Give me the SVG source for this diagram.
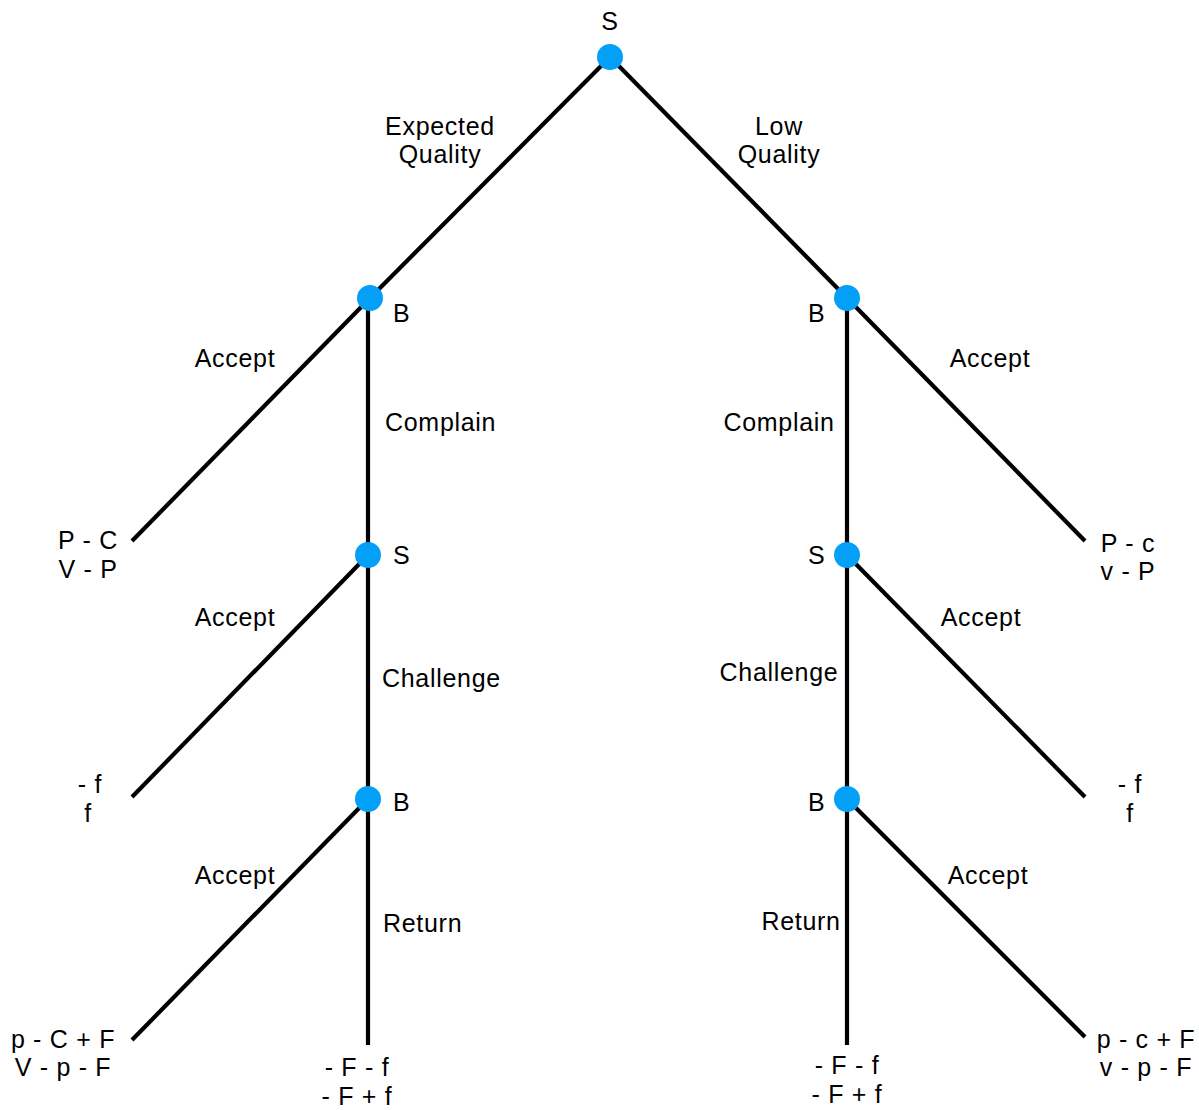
<svg xmlns="http://www.w3.org/2000/svg" width="1199" height="1110" viewBox="0 0 1199 1110">
<style>
.e{stroke:#000;stroke-width:4.2;fill:none;stroke-linecap:butt}
.n{fill:#04a0f8}
text{font-family:"Liberation Sans",Arial,sans-serif;font-size:25px;fill:#000;letter-spacing:0.7px}
.m{text-anchor:middle}
</style>
<rect width="1199" height="1110" fill="#fff"/>
<g id="connectors">
<line class="e" x1="610" y1="57" x2="370" y2="298"/>
<line class="e" x1="610" y1="57" x2="847" y2="298"/>
<line class="e" x1="370" y1="298" x2="132" y2="541"/>
<line class="e" x1="368" y1="298" x2="368" y2="1045"/>
<line class="e" x1="368" y1="555" x2="132" y2="797"/>
<line class="e" x1="368" y1="799" x2="132" y2="1040"/>
<line class="e" x1="847" y1="298" x2="1085" y2="541"/>
<line class="e" x1="847" y1="298" x2="847" y2="1045"/>
<line class="e" x1="847" y1="555" x2="1085" y2="797"/>
<line class="e" x1="847" y1="799" x2="1085" y2="1037"/>
<text x="440" y="135" class="m">Expected</text>
<text x="440" y="163" class="m">Quality</text>
<text x="779" y="135" class="m">Low</text>
<text x="779" y="163" class="m">Quality</text>
<text x="235" y="367" class="m">Accept</text>
<text x="385" y="431">Complain</text>
<text x="779" y="431" class="m">Complain</text>
<text x="990" y="367" class="m">Accept</text>
<text x="235" y="626" class="m">Accept</text>
<text x="382" y="687">Challenge</text>
<text x="779" y="681" class="m">Challenge</text>
<text x="981" y="626" class="m">Accept</text>
<text x="235" y="884" class="m">Accept</text>
<text x="383" y="932">Return</text>
<text x="801" y="930" class="m">Return</text>
<text x="988" y="884" class="m">Accept</text>
</g>
<g id="n_root"><circle class="n" cx="610" cy="57" r="13"/><text x="610" y="30" class="m">S</text></g>
<g id="n_b1"><circle class="n" cx="370" cy="298" r="13"/><text x="393" y="322">B</text></g>
<g id="n_b2"><circle class="n" cx="847" cy="298" r="13"/><text x="808" y="322">B</text></g>
<g id="n_s1"><circle class="n" cx="368" cy="555" r="13"/><text x="393" y="564">S</text></g>
<g id="n_s2"><circle class="n" cx="847" cy="555" r="13"/><text x="808" y="564">S</text></g>
<g id="n_b3"><circle class="n" cx="368" cy="799" r="13"/><text x="393" y="811">B</text></g>
<g id="n_b4"><circle class="n" cx="847" cy="799" r="13"/><text x="808" y="811">B</text></g>
<g id="t1"><text x="88" y="549" class="m">P - C</text><text x="88" y="578" class="m">V - P</text></g>
<g id="t2"><text x="1128" y="552" class="m">P - c</text><text x="1128" y="580" class="m">v - P</text></g>
<g id="t3"><text x="90" y="793" class="m">- f</text><text x="88" y="822" class="m">f</text></g>
<g id="t4"><text x="1130" y="793" class="m">- f</text><text x="1130" y="822" class="m">f</text></g>
<g id="t5"><text x="63" y="1048" class="m">p - C + F</text><text x="63" y="1076" class="m">V - p - F</text></g>
<g id="t6"><text x="357" y="1076" class="m">- F - f</text><text x="357" y="1105" class="m">- F + f</text></g>
<g id="t7"><text x="847" y="1074" class="m">- F - f</text><text x="847" y="1103" class="m">- F + f</text></g>
<g id="t8"><text x="1146" y="1048" class="m">p - c + F</text><text x="1146" y="1076" class="m">v - p - F</text></g>
</svg>
